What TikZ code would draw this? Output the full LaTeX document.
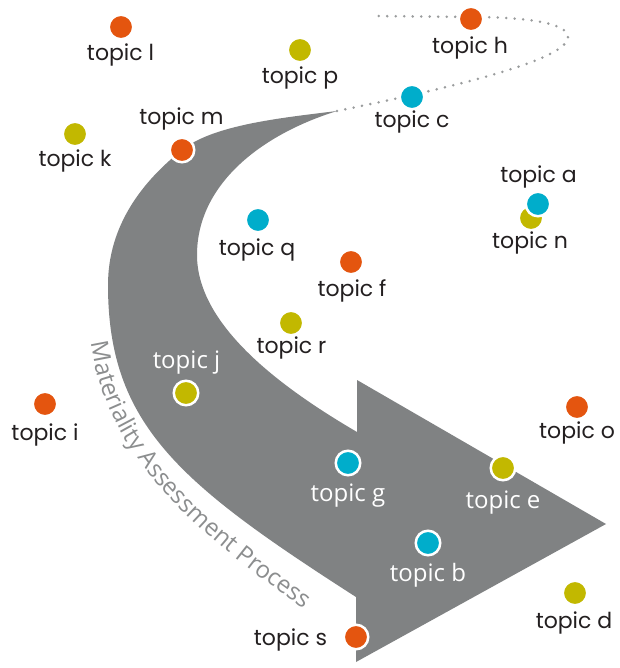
\documentclass[tikz,border=0pt]{standalone}
\usepackage{fontspec}
\setmainfont{Poppins}
\newfontfamily\opensans{Open Sans}
\usetikzlibrary{decorations.text}
\definecolor{orng}{HTML}{E4550F}
\definecolor{cyn}{HTML}{00ADCB}
\definecolor{olv}{HTML}{C2B800}
\definecolor{arrowgray}{HTML}{808283}
\definecolor{txt}{HTML}{231F20}
\definecolor{captgray}{HTML}{8C8E8F}
\definecolor{dotgray}{HTML}{9A9C9D}
\tikzset{
  dot/.style={circle, minimum size=24.5pt, inner sep=0pt, draw=white, line width=2.5pt},
  lbl/.style={anchor=base, inner sep=0pt, text=txt, font=\fontsize{22}{26}\selectfont},
  wlbl/.style={anchor=base, inner sep=0pt, text=white, font=\opensans\fontsize{24}{28}\selectfont},
  dotline/.style={draw=dotgray, line width=2.8pt, line cap=round, dash pattern=on 0pt off 8.5pt},
}
\begin{document}
\begin{tikzpicture}[x=1pt,y=-1pt]
\useasboundingbox (0,0) rectangle (619,668);
\fill[white] (0,0) rectangle (619,668);
% curved arrow
\fill[arrowgray] (337,111) .. controls (280,118) and (213,125) .. (182,150)
  .. controls (143,181) and (108,225) .. (108,285)
  .. controls (108,425) and (180,484) .. (356,597)
  -- (356,662) -- (606,524) -- (357,380) -- (357,432)
  .. controls (280,387) and (197,325) .. (197,255)
  .. controls (197,185) and (260,135) .. (337,111) -- cycle;
% dotted continuation
\coordinate (tail) at (337,111);
\coordinate (dend) at (373,16);
\draw[dotline] (tail) .. controls (430,92) and (568,62) .. (568,37)
  .. controls (568,22) and (520,17) .. (470,17) -- (dend);
% curved caption
\path[decorate, decoration={text along path, text align={left indent=53pt},
  text={|\opensans\fontsize{24}{28}\selectfont\color{captgray}|Materiality Assessment Process}}]
  (87,290) .. controls (87,432) and (160,512) .. (335,630);
% dots
\node[dot, fill=orng] (l) at (121,27) {};
\node[dot, fill=olv]  (p) at (300,50) {};
\node[dot, fill=orng] (h) at (471,19) {};
\node[dot, fill=cyn]  (c) at (412,97) {};
\node[dot, fill=orng] (m) at (182,150) {};
\node[dot, fill=olv]  (k) at (75,134) {};
\node[dot, fill=olv]  (n) at (531,218) {};
\node[dot, fill=cyn]  (a) at (538,204) {};
\node[dot, fill=cyn]  (q) at (258,220) {};
\node[dot, fill=orng] (f) at (351,262) {};
\node[dot, fill=olv]  (r) at (291,323) {};
\node[dot, fill=olv]  (j) at (186,393) {};
\node[dot, fill=orng] (i) at (45,404) {};
\node[dot, fill=orng] (o) at (577,407) {};
\node[dot, fill=cyn]  (g) at (348,463) {};
\node[dot, fill=olv]  (e) at (503,468) {};
\node[dot, fill=cyn]  (b) at (428,543) {};
\node[dot, fill=olv]  (d) at (575,593) {};
\node[dot, fill=orng] (s) at (356,637) {};
% labels
\node[lbl] (tl) at (120.5,61) {topic l};
\node[lbl] (tp) at (300,84) {topic p};
\node[lbl] (th) at (470,54) {topic h};
\node[lbl] (tc) at (412,128) {topic c};
\node[lbl] (tm) at (181.5,125) {topic m};
\node[lbl] (tk) at (75,167) {topic k};
\node[lbl] (ta) at (538.5,183) {topic a};
\node[lbl] (tn) at (530,248) {topic n};
\node[lbl] (tq) at (257,255) {topic q};
\node[lbl] (tf) at (352,296) {topic f};
\node[lbl] (tr) at (291.5,353) {topic r};
\node[lbl] (ti) at (45,440) {topic i};
\node[lbl] (to) at (577,438) {topic o};
\node[lbl] (td) at (574,628) {topic d};
\node[lbl] (ts) at (290.5,645) {topic s};
\node[wlbl] (tj) at (186.5,368) {topic j};
\node[wlbl] (tg) at (348,501) {topic g};
\node[wlbl] (te) at (503,508) {topic e};
\node[wlbl] (tb) at (428,581) {topic b};
\end{tikzpicture}
\end{document}
